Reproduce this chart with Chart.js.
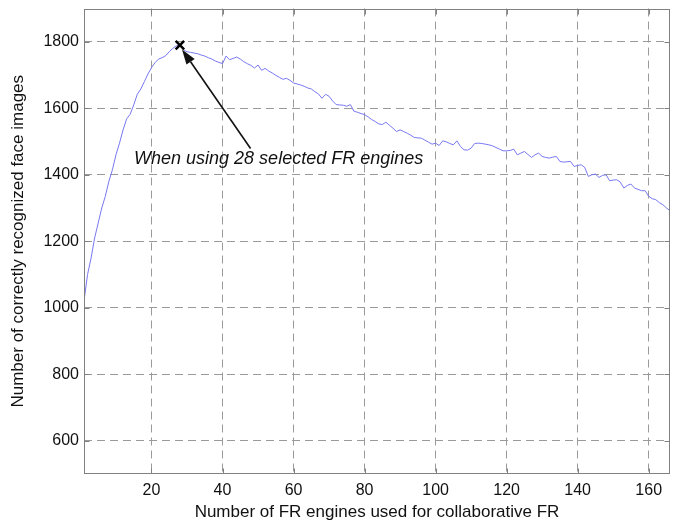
<!DOCTYPE html>
<html>
<head>
<meta charset="utf-8">
<script src="https://cdn.jsdelivr.net/npm/chart.js@4/dist/chart.umd.min.js"></script>
<style>
  html, body { margin: 0; padding: 0; background: #fff; }
  canvas { display: block; }
</style>
</head>
<body>
<canvas id="c" width="679" height="523"></canvas>
<script>
// ---- data ----
const recognized = [
  1020, 1100, 1150, 1210, 1255, 1300, 1335, 1380, 1415, 1460,
  1495, 1535, 1568, 1582, 1610, 1642, 1658, 1680, 1703, 1722,
  1737, 1748, 1752, 1758, 1770, 1780, 1788, 1792, 1776, 1770,
  1768, 1766, 1764, 1760, 1757, 1752, 1748, 1742, 1738, 1734,
  1757, 1746, 1750, 1754, 1748, 1740, 1734, 1729, 1721, 1730,
  1714, 1720, 1712, 1706, 1699, 1693, 1687, 1690, 1684, 1676,
  1673, 1670, 1666, 1661, 1658, 1650, 1643, 1630, 1642, 1636,
  1622, 1611, 1610, 1609, 1606, 1611, 1591, 1588, 1584, 1581,
  1574, 1566, 1560, 1553, 1551, 1558, 1549, 1540, 1530, 1535,
  1530, 1525, 1519, 1512, 1511, 1510, 1504, 1498, 1492, 1495,
  1488, 1502, 1499, 1494, 1490, 1502, 1485, 1475, 1474, 1480,
  1494, 1495, 1494, 1492, 1490, 1487, 1482, 1477, 1472, 1472,
  1473, 1477, 1460, 1465, 1470, 1461, 1452, 1460, 1465, 1455,
  1452, 1450, 1453, 1455, 1440, 1438, 1439, 1440, 1425, 1428,
  1430, 1422, 1395, 1400, 1402, 1392, 1398, 1400, 1382, 1384,
  1385, 1378, 1360, 1368, 1372, 1360, 1356, 1352, 1352, 1335,
  1328, 1325, 1316, 1310, 1300, 1292
];
const firstEngines = 1;               // x of the first value
const xTicks = [20, 40, 60, 80, 100, 120, 140, 160];
const yTicks = [600, 800, 1000, 1200, 1400, 1600, 1800];
const xRange = [1, 166];
const yRange = [500, 1900];
const bestPoint = [28, 1790];
const annotationText = 'When using 28 selected FR engines';
const annotationTextAt = [55.8, 1446];
const arrowFrom = [47.9, 1479];
const arrowTo = [28.6, 1777];
const xTitle = 'Number of FR engines used for collaborative FR';
const yTitle = 'Number of correctly recognized face images';

const FONT = '"Liberation Sans", Arial, sans-serif';
const curve = recognized.map((v, i) => ({ x: firstEngines + i, y: v }));

const overlay = {
  id: 'overlay',
  afterDatasetsDraw(chart) {
    const { ctx, chartArea: a, scales: { x, y } } = chart;
    ctx.save();
    ctx.strokeStyle = '#808080';
    ctx.lineWidth = 1;
    ctx.setLineDash([]);
    const L = Math.round(a.left) + 0.5, R = Math.round(a.right) - 0.5;
    const T = Math.round(a.top) + 0.5, B = Math.round(a.bottom) - 0.5;
    ctx.strokeRect(L, T, R - L, B - T);
    ctx.beginPath();
    x.ticks.forEach(t => {
      const px = Math.round(x.getPixelForValue(t.value)) + 0.5;
      ctx.moveTo(px, B); ctx.lineTo(px, B - 5);
      ctx.moveTo(px, T); ctx.lineTo(px, T + 5);
    });
    y.ticks.forEach(t => {
      const py = Math.round(y.getPixelForValue(t.value)) + 0.5;
      ctx.moveTo(L, py); ctx.lineTo(L + 5, py);
      ctx.moveTo(R, py); ctx.lineTo(R - 5, py);
    });
    ctx.stroke();
    const x0 = x.getPixelForValue(arrowFrom[0]), y0 = y.getPixelForValue(arrowFrom[1]);
    const x1 = x.getPixelForValue(arrowTo[0]), y1 = y.getPixelForValue(arrowTo[1]);
    const ang = Math.atan2(y1 - y0, x1 - x0);
    const hl = 15, hw = 5;
    const bx = x1 - hl * Math.cos(ang), by = y1 - hl * Math.sin(ang);
    ctx.strokeStyle = '#111';
    ctx.fillStyle = '#111';
    ctx.lineWidth = 1.6;
    ctx.beginPath();
    ctx.moveTo(x0, y0); ctx.lineTo(bx, by);
    ctx.stroke();
    ctx.beginPath();
    ctx.moveTo(x1, y1);
    ctx.lineTo(bx + hw * Math.sin(ang), by - hw * Math.cos(ang));
    ctx.lineTo(bx - hw * Math.sin(ang), by + hw * Math.cos(ang));
    ctx.closePath();
    ctx.fill();
    ctx.font = 'italic 18px ' + FONT;
    ctx.textAlign = 'center';
    ctx.textBaseline = 'middle';
    ctx.fillText(annotationText, x.getPixelForValue(annotationTextAt[0]), y.getPixelForValue(annotationTextAt[1]));
    ctx.restore();
  }
};

new Chart(document.getElementById('c'), {
  type: 'line',
  data: {
    datasets: [
      {
        data: curve,
        borderColor: '#7878f2',
        borderWidth: 1,
        pointRadius: 0,
        tension: 0,
        fill: false,
        order: 2
      },
      {
        type: 'scatter',
        data: [{ x: bestPoint[0], y: bestPoint[1] }],
        pointStyle: 'crossRot',
        pointRadius: 6,
        borderColor: '#000',
        borderWidth: 2.5,
        showLine: false,
        order: 1
      }
    ]
  },
  options: {
    responsive: false,
    animation: false,
    devicePixelRatio: 1,
    layout: { padding: { top: 8, right: 9, bottom: 0, left: 0 } },
    plugins: { legend: { display: false }, tooltip: { enabled: false } },
    scales: {
      x: {
        type: 'linear',
        min: xRange[0], max: xRange[1],
        afterBuildTicks: s => { s.ticks = xTicks.map(v => ({ value: v })); },
        afterFit: s => { s.height = 49; s.paddingLeft = 0; s.paddingRight = 0; },
        grid: { color: '#9a9a9a', lineWidth: 1, drawTicks: false },
        border: { display: false, dash: [8, 5] },
        ticks: { color: '#111', font: { family: FONT, size: 16 }, padding: 7, maxRotation: 0, callback: v => String(v) },
        title: { display: true, text: xTitle, color: '#111', font: { family: FONT, size: 17 }, padding: { top: 0, bottom: 0 } }
      },
      y: {
        type: 'linear',
        min: yRange[0], max: yRange[1],
        afterBuildTicks: s => { s.ticks = yTicks.map(v => ({ value: v })); },
        afterFit: s => { s.width = 84; s.paddingTop = 0; s.paddingBottom = 0; },
        grid: { color: '#9a9a9a', lineWidth: 1, drawTicks: false },
        border: { display: false, dash: [8, 5] },
        ticks: { color: '#111', font: { family: FONT, size: 16 }, padding: 5, callback: v => String(v) },
        title: { display: true, text: yTitle, color: '#111', font: { family: FONT, size: 17 }, padding: { top: 8, bottom: 0 } }
      }
    }
  },
  plugins: [overlay]
});
</script>
</body>
</html>
